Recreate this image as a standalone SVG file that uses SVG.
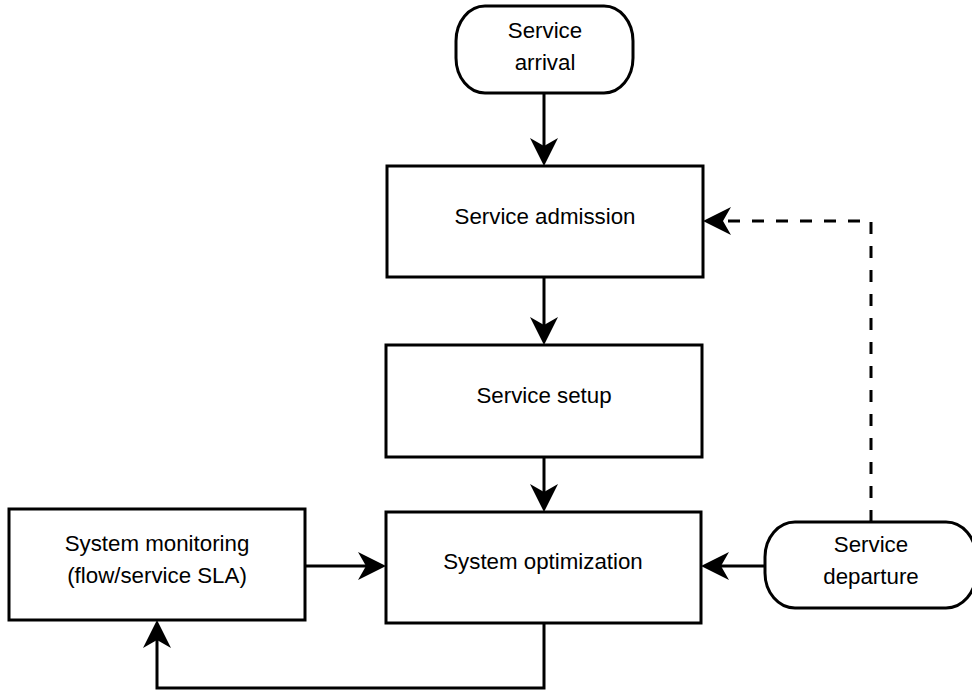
<svg xmlns="http://www.w3.org/2000/svg" width="972" height="690" viewBox="0 0 972 690">
  <style>
    .box { fill: #ffffff; stroke: #000000; stroke-width: 3; }
    .lbl { font-family: "Liberation Sans", Arial, Helvetica, sans-serif; font-size: 22.3px; fill: #000000; text-anchor: middle; }
    .edge { fill: none; stroke: #000000; stroke-width: 3; }
    .dash { stroke-dasharray: 12 12; }
  </style>
  <defs>
    <marker id="arrow" viewBox="0 0 28 28" markerUnits="userSpaceOnUse" markerWidth="28" markerHeight="28" refX="8" refY="14" orient="auto">
      <path d="M28,14 L0,0 L8,14 L0,28 Z" fill="#000000"/>
    </marker>
  </defs>
  <rect width="972" height="690" fill="#ffffff"/>

  <g id="connectors">
    <path class="edge" d="M544,93 L544,146" marker-end="url(#arrow)"/>
    <path class="edge" d="M544,277 L544,325" marker-end="url(#arrow)"/>
    <path class="edge" d="M544,457 L544,492" marker-end="url(#arrow)"/>
    <path class="edge" d="M305,566 L366,566" marker-end="url(#arrow)"/>
    <path class="edge" d="M766,566 L721,566" marker-end="url(#arrow)"/>
    <path class="edge" d="M544,623 L544,688 L157,688 L157,640" marker-end="url(#arrow)"/>
    <path class="edge dash" d="M871,522 L871,221 L723,221" marker-end="url(#arrow)"/>
  </g>

  <g id="service-arrival">
    <rect class="box" x="456" y="6" width="177" height="87" rx="29" ry="35"/>
    <text class="lbl" x="545" y="38">Service</text>
    <text class="lbl" x="545" y="70">arrival</text>
  </g>

  <g id="service-admission">
    <rect class="box" x="387" y="166" width="316" height="111"/>
    <text class="lbl" x="545" y="224">Service admission</text>
  </g>

  <g id="service-setup">
    <rect class="box" x="386" y="345" width="316" height="112"/>
    <text class="lbl" x="544" y="403">Service setup</text>
  </g>

  <g id="system-optimization">
    <rect class="box" x="386" y="512" width="315" height="111"/>
    <text class="lbl" x="543" y="569">System optimization</text>
  </g>

  <g id="system-monitoring">
    <rect class="box" x="9" y="509" width="296" height="111"/>
    <text class="lbl" x="157" y="551">System monitoring</text>
    <text class="lbl" x="157" y="583">(flow/service SLA)</text>
  </g>

  <g id="service-departure">
    <rect class="box" x="765" y="522" width="211" height="86" rx="30" ry="35"/>
    <text class="lbl" x="871" y="552">Service</text>
    <text class="lbl" x="871" y="584">departure</text>
  </g>
</svg>
